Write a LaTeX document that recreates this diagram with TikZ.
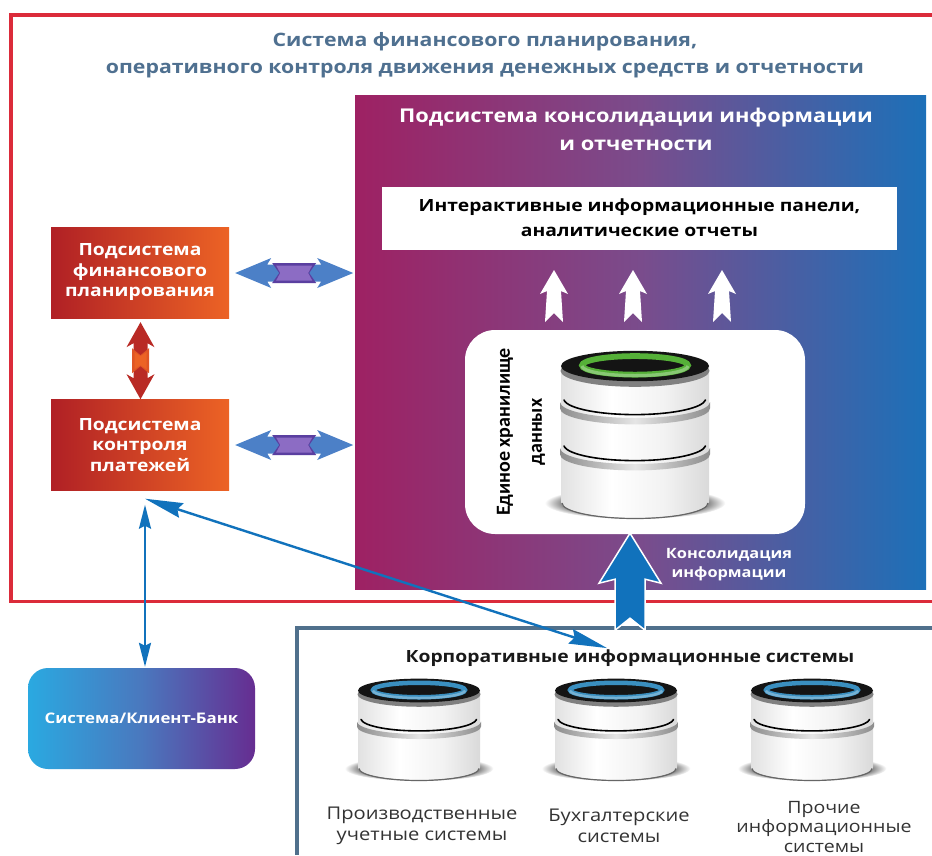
\documentclass[tikz,border=0pt]{standalone}
\usepackage{fontspec}
\setmainfont{Open Sans}[FakeStretch=1.15]
\newfontfamily\carl{Carlito}
\usetikzlibrary{arrows.meta,calc}
\definecolor{framered}{HTML}{DB2B3A}
\definecolor{frameblue}{HTML}{50708C}
\definecolor{titleblue}{HTML}{4F7090}
\definecolor{linkblue}{HTML}{1172BC}
\definecolor{panelL}{HTML}{9E2163}
\definecolor{panelM}{HTML}{7A4C8C}
\definecolor{panelR}{HTML}{1C70B8}
\definecolor{boxL}{HTML}{B02025}
\definecolor{boxR}{HTML}{EC6325}
\definecolor{purpleD}{HTML}{5A3FA0}
\definecolor{purpleL}{HTML}{8C6CC4}
\definecolor{bankL}{HTML}{2AA9E1}
\definecolor{bankM}{HTML}{4A78BE}
\definecolor{bankR}{HTML}{662D91}
\definecolor{ringgreen}{HTML}{55B038}
\definecolor{ringblue}{HTML}{3A8FC0}
\pgfdeclarehorizontalshading{silver}{100bp}{color(0bp)=(black!52);color(5bp)=(black!36);color(20bp)=(black!15);color(42bp)=(white);color(60bp)=(black!5);color(80bp)=(black!18);color(95bp)=(black!32);color(100bp)=(black!52)}
\pgfdeclarehorizontalshading{dblb}{100bp}{rgb(0bp)=(0.2,0.62,0.88);rgb(30bp)=(0.30,0.50,0.78);rgb(70bp)=(0.30,0.50,0.78);rgb(100bp)=(0.2,0.62,0.88)}
\pgfdeclareradialshading{softshadow}{\pgfpointorigin}{color(0bp)=(black!85);color(17bp)=(black!78);color(25bp)=(white);color(50bp)=(white)}
\tikzset{
  frameline/.style={line width=3.6pt},
  redbox/.style={minimum width=178pt,minimum height=91pt,left color=boxL,right color=boxR,align=center,text=white,inner sep=0pt,font=\fontsize{16.8}{20.5}\selectfont\bfseries},
  thinlink/.style={draw=linkblue,line width=2.4pt},
  lowlabel/.style={align=center,text=black!80,inner sep=0pt,font=\fontsize{17.5}{21.5}\selectfont},
  panelshade/.style={left color=panelL,right color=panelR,middle color=panelM},
}
% fat double arrow: start, angle, length, head half width, head length, shaft half width, fill options, mid colour, mid light colour
\newcommand{\fatdbl}[9]{%
  \begin{scope}[shift={(#1)},rotate=#2]
    \path[#7] (0,0) -- (#5,-#4) -- (#5-4,-#6) -- (#3-#5+4,-#6) -- (#3-#5,-#4) -- (#3,0) -- (#3-#5,#4) -- (#3-#5+4,#6) -- (#5-4,#6) -- (#5,#4) -- cycle;
    \fill[#8] (#5+1,-#6-1.5) -- (#3-#5-1,-#6-1.5) -- (#3-#5-8,0) -- (#3-#5-1,#6+1.5) -- (#5+1,#6+1.5) -- (#5+8,0) -- cycle;
    \fill[#9] (#5+5,-#6+1) -- (#3-#5-5,-#6+1) -- (#3-#5-9,0) -- (#3-#5-5,#6-1) -- (#5+5,#6-1) -- (#5+9,0) -- cycle;
  \end{scope}}
% white upward arrow: position of tip
\newcommand{\upwhite}[1]{%
  \begin{scope}[shift={(#1)}]
    \fill[white] (0,0) -- (14,24) -- (7,21) -- (9,52) -- (0,43) -- (-9,52) -- (-7,21) -- (-14,24) -- cycle;
  \end{scope}}
% database cylinder: cx, top, half width, ellipse half height, bottom, separators, ring colour, ring half width
\newcommand{\dbcyl}[8]{%
  \begin{scope}[shift={(#1,#2)}]
    \pgfmathsetmacro{\ax}{#3}\pgfmathsetmacro{\bx}{#4}\pgfmathsetmacro{\hx}{#5}
    \shade[shading=softshadow] (0,\hx-\bx+1) ellipse[x radius=\ax*1.22,y radius=\bx*1.0];
    \shade[shading=silver] (-\ax,\bx) -- (-\ax,\hx-\bx) arc[start angle=180,end angle=0,x radius=\ax,y radius=\bx] -- (\ax,\bx) -- cycle;
    \draw[black!60,line width=1.2pt] (-\ax+1,\hx-\bx+1) arc[start angle=180,end angle=0,x radius=\ax-1,y radius=\bx-0.5];
    \foreach \s in {#6} {
      \shade[left color=black!45,right color=black!45,middle color=black!10] (-\ax-1,\s-\bx+1) arc[start angle=180,end angle=0,x radius=\ax+1,y radius=\bx] -- ++(0,\bx*0.4) arc[start angle=0,end angle=180,x radius=\ax+1,y radius=\bx] -- cycle;
      \draw[black,line width=1.6pt,line cap=round] (-\ax+3,\s-\bx-1) arc[start angle=175,end angle=5,x radius=\ax-3,y radius=\bx];
    }
    \fill[black!50] (0,\bx+\bx*0.3) ellipse[x radius=\ax+0.5,y radius=\bx];
    \fill[black!92] (0,\bx) ellipse[x radius=\ax,y radius=\bx*0.95];
    \draw[#7,line width=\bx*0.36pt] (0,\bx*0.96) ellipse[x radius=#8,y radius=\bx*0.58];
    \draw[#7!70!white,line width=\bx*0.2pt] (-#8,\bx*1.0) arc[start angle=180,end angle=0,x radius=#8,y radius=\bx*0.6];
  \end{scope}}
\begin{document}
\begin{tikzpicture}[x=1pt,y=-1pt]
\useasboundingbox (0,0) rectangle (932,855);
\fill[white] (0,0) rectangle (932,855);
% outer frames
\draw[frameline,draw=framered] (932,15) -- (11,15) -- (11,601.5) -- (932,601.5);
\draw[frameline,draw=frameblue] (932,628) -- (297,628) -- (297,855);
% panel
\node[panelshade,minimum width=571pt,minimum height=494pt,inner sep=0pt] (panel) at (640.5,342) {};
% titles
\node[text=titleblue,font=\fontsize{18.5}{27}\selectfont\bfseries,align=center] (maintitle) at (485,55) {Система финансового планирования,\\оперативного контроля движения денежных средств и отчетности};
\node[text=white,font=\fontsize{19}{28}\selectfont\bfseries,align=center] (paneltitle) at (636,129) {Подсистема консолидации информации\\и отчетности};
% dashboards
\node[fill=white,minimum width=515pt,minimum height=63pt,inner sep=0pt,align=center,font=\fontsize{16.8}{25}\selectfont\bfseries] (dash) at (639.5,218.5) {\raisebox{1pt}{Интерактивные информационные панели,}\\\raisebox{1pt}{аналитические отчеты}};
% white arrows
\upwhite{554,270}\upwhite{633,270}\upwhite{722,270}
% storage
\node[fill=white,rounded corners=30pt,minimum width=340pt,minimum height=204pt,inner sep=0pt] (store) at (635,432) {};
\dbcyl{635}{350}{74}{16}{168}{67,113}{ringgreen}{53}
\node[rotate=90,align=center,font=\carl\fontsize{20}{32}\selectfont\bfseries] (storelabel) at (521,432) {Единое хранилище\\данных};
% red boxes
\node[redbox] (plan) at (140,272.5) {Подсистема\\финансового\\планирования};
\node[redbox] (ctrl) at (140,445) {Подсистема\\контроля\\платежей};
% fat double arrows
\fatdbl{$(plan.east)+(6,0.5)$}{0}{118}{15}{36}{8.5}{shading=dblb}{purpleD}{purpleL}
\fatdbl{$(ctrl.east)+(6,0)$}{0}{118}{15}{36}{8.5}{shading=dblb}{purpleD}{purpleL}
\fatdbl{$(plan.south)+(0.5,4)$}{-90}{77}{14}{25}{7}{fill=boxL!85!boxR}{boxR!80!boxL}{boxR}
% client bank
\node[left color=bankL,right color=bankR,middle color=bankM,rounded corners=20pt,minimum width=227pt,minimum height=101pt,inner sep=0pt,text=white,font=\fontsize{14.6}{17}\selectfont\bfseries] (client) at (141.5,718.5) {Система/Клиент-Банк};
% consolidation arrow
\coordinate (consTip) at (store.south);
\draw[white,line width=1.5pt,fill=linkblue,line join=miter] ($(consTip)+(-5,-1)$) -- ++(31,50) -- ++(-16,-4) -- ++(0,51) -- ++(-15,-12) -- ++(-15,12) -- ++(0,-51) -- ++(-16,4) -- cycle;
\node[text=white,align=center,font=\fontsize{14.2}{19}\selectfont\bfseries] (constext) at (729,565) {Консолидация\\информации};
% corporate systems
\node[font=\fontsize{16.8}{20}\selectfont\bfseries,text=black!90] (corp) at (630,658) {Корпоративные информационные системы};
\dbcyl{419}{678}{61}{12.5}{102}{55}{ringblue}{46}
\dbcyl{616}{678}{61}{12.5}{102}{55}{ringblue}{46}
\dbcyl{812}{678}{61}{12.5}{102}{55}{ringblue}{46}
\node[lowlabel] (lab1) at (422,826) {Производственные\\учетные системы};
\node[lowlabel] (lab2) at (619,826) {Бухгалтерские\\системы};
\node[lowlabel,font=\fontsize{17}{19.5}\selectfont] (lab3) at (824,827) {Прочие\\информационные\\системы};
% links
\coordinate (diagA) at ($(ctrl.south)+(5,8)$);
\coordinate (diagB) at ($(corp.north)+(-23,2)$);
\draw[thinlink,{Stealth[length=38pt,width=15pt,inset=4pt]}-{Stealth[length=38pt,width=15pt,inset=4pt]}] (diagA) -- (diagB);
\draw[thinlink,{Stealth[length=24pt,width=12pt,inset=3pt]}-{Stealth[length=24pt,width=12pt,inset=3pt]},shorten >=1pt,shorten <=14pt] ($(ctrl.south)+(5,0)$) -- ($(client.north)+(3.5,0)$);
\end{tikzpicture}
\end{document}
